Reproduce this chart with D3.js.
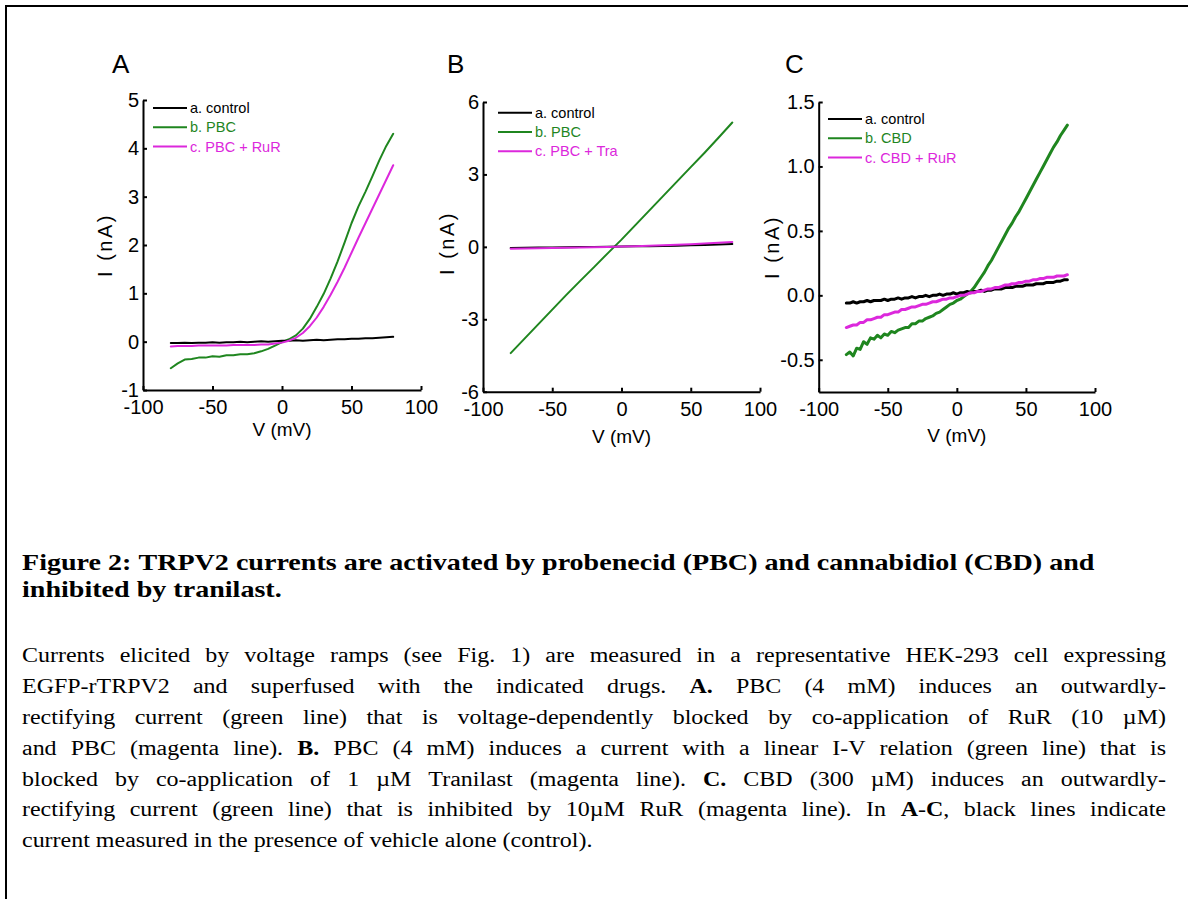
<!DOCTYPE html>
<html>
<head>
<meta charset="utf-8">
<script src="https://cdn.jsdelivr.net/npm/d3@7"></script>
<style>
  html, body { margin: 0; padding: 0; background: #fff; }
  svg { display: block; }
</style>
</head>
<body>
<script>
// ---------- data: I-V ramps (V in mV, I in nA) ----------
const voltA = [-80,-75,-70,-65,-60,-55,-50,-45,-40,-35,-30,-25,-20,-15,-10,-5,0,5,10,15,20,25,30,35,40,45,50,55,60,65,70,75,80];
const controlA = [-0.03,-0.03,-0.02,-0.03,-0.02,-0.02,-0.01,-0.02,-0.01,-0.01,0.00,-0.01,0.00,0.01,0.00,0.01,0.02,0.02,0.03,0.02,0.03,0.04,0.03,0.04,0.05,0.05,0.06,0.06,0.07,0.07,0.08,0.09,0.10];
const pbcA = [-0.55,-0.45,-0.37,-0.36,-0.33,-0.33,-0.30,-0.31,-0.28,-0.28,-0.26,-0.26,-0.24,-0.20,-0.15,-0.08,-0.01,0.05,0.13,0.27,0.47,0.72,0.99,1.31,1.66,2.05,2.45,2.80,3.10,3.42,3.75,4.05,4.30];
const pbcRuRA = [-0.10,-0.09,-0.09,-0.09,-0.08,-0.08,-0.08,-0.08,-0.08,-0.07,-0.07,-0.07,-0.07,-0.06,-0.06,-0.04,-0.02,0.02,0.08,0.18,0.32,0.50,0.72,0.97,1.24,1.53,1.84,2.15,2.45,2.75,3.05,3.35,3.65];

const voltB = [-80,-70,-60,-50,-40,-30,-20,-10,0,10,20,30,40,50,60,70,80];
const controlB = [-0.05,-0.04,-0.03,-0.03,-0.02,-0.01,-0.01,0.00,0.01,0.02,0.03,0.04,0.05,0.07,0.08,0.10,0.12];
const pbcB = [-4.40,-3.80,-3.20,-2.60,-2.00,-1.42,-0.85,-0.27,0.30,0.90,1.50,2.10,2.70,3.30,3.90,4.52,5.15];
const pbcTraB = [-0.08,-0.07,-0.06,-0.05,-0.04,-0.03,-0.02,-0.01,0.01,0.03,0.05,0.07,0.09,0.11,0.14,0.17,0.20];

const voltC = [-80,-77.5,-75,-72.5,-70,-67.5,-65,-62.5,-60,-57.5,-55,-52.5,-50,-47.5,-45,-42.5,-40,-37.5,-35,-32.5,-30,-27.5,-25,-22.5,-20,-17.5,-15,-12.5,-10,-7.5,-5,-2.5,0,2.5,5,7.5,10,12.5,15,17.5,20,22.5,25,27.5,30,32.5,35,37.5,40,42.5,45,47.5,50,52.5,55,57.5,60,62.5,65,67.5,70,72.5,75,77.5,80];
const controlC = [-0.06,-0.06,-0.05,-0.06,-0.05,-0.05,-0.04,-0.05,-0.04,-0.04,-0.04,-0.03,-0.04,-0.03,-0.03,-0.02,-0.03,-0.02,-0.02,-0.01,-0.02,-0.01,-0.01,0.00,-0.01,0.00,0.00,0.01,0.00,0.01,0.01,0.02,0.01,0.02,0.02,0.03,0.02,0.03,0.03,0.04,0.03,0.04,0.04,0.05,0.05,0.05,0.06,0.06,0.06,0.07,0.07,0.07,0.08,0.08,0.08,0.09,0.09,0.09,0.10,0.10,0.10,0.11,0.11,0.12,0.12];
const cbdC = [-0.46,-0.44,-0.47,-0.41,-0.42,-0.36,-0.38,-0.33,-0.34,-0.31,-0.33,-0.30,-0.31,-0.28,-0.29,-0.27,-0.26,-0.25,-0.25,-0.22,-0.22,-0.20,-0.20,-0.18,-0.17,-0.16,-0.14,-0.13,-0.11,-0.09,-0.07,-0.06,-0.04,-0.03,-0.01,0.01,0.03,0.06,0.10,0.14,0.18,0.23,0.27,0.32,0.37,0.42,0.47,0.52,0.56,0.61,0.65,0.70,0.75,0.80,0.85,0.90,0.95,1.00,1.05,1.10,1.15,1.19,1.24,1.28,1.32];
const cbdRuRC = [-0.25,-0.24,-0.23,-0.23,-0.21,-0.21,-0.19,-0.19,-0.18,-0.17,-0.17,-0.15,-0.15,-0.14,-0.13,-0.13,-0.11,-0.11,-0.10,-0.09,-0.09,-0.08,-0.07,-0.07,-0.06,-0.05,-0.05,-0.04,-0.03,-0.03,-0.02,-0.02,-0.01,0.00,0.00,0.01,0.02,0.02,0.03,0.03,0.04,0.05,0.05,0.06,0.06,0.07,0.08,0.08,0.09,0.09,0.10,0.10,0.11,0.11,0.12,0.12,0.13,0.13,0.14,0.14,0.14,0.15,0.15,0.15,0.16];

// ---------- axes ticks and labels ----------
const xTicks = [-100, -50, 0, 50, 100];
const yTicksA = [-1, 0, 1, 2, 3, 4, 5];
const yTicksB = [-6, -3, 0, 3, 6];
const yTicksC = [-0.5, 0.0, 0.5, 1.0, 1.5];
const yDomainA = [-1, 5];
const yDomainB = [-6, 6];
const yDomainC = [-0.75, 1.5];
const xDomain = [-100, 100];

const legendA = ["a. control", "b. PBC", "c. PBC + RuR"];
const legendB = ["a. control", "b. PBC", "c. PBC + Tra"];
const legendC = ["a. control", "b. CBD", "c. CBD + RuR"];
const panelLetters = ["A", "B", "C"];
const xTitle = "V (mV)";
const yTitle = "I (nA)";

const captionTitle = [
  "Figure 2: TRPV2 currents are activated by probenecid (PBC) and cannabidiol (CBD) and",
  "inhibited by tranilast."
];
const captionBody = [
  "Currents elicited by voltage ramps (see Fig. 1) are measured in a representative HEK-293 cell expressing",
  "EGFP-rTRPV2 and superfused with the indicated drugs. *A.* PBC (4 mM) induces an outwardly-",
  "rectifying current (green line) that is voltage-dependently blocked by co-application of RuR (10 µM)",
  "and PBC (magenta line). *B.* PBC (4 mM) induces a current with a linear I-V relation (green line) that is",
  "blocked by co-application of 1 µM Tranilast (magenta line). *C.* CBD (300 µM) induces an outwardly-",
  "rectifying current (green line) that is inhibited by 10µM RuR (magenta line). In *A*-*C*, black lines indicate",
  "current measured in the presence of vehicle alone (control)."
];

// ---------- styling ----------
const GREEN = "#1f861f";
const MAGENTA = "#dc28dc";
const BLACK = "#000";
const SANS = "'Liberation Sans', Arial, sans-serif";
const SERIF = "'Liberation Serif', 'Times New Roman', serif";

// plain hyphen-minus for negative tick values
const hy = f => d => f(d).replace("\u2212", "-");

const W = 1188, H = 899;
const svg = d3.select("body").append("svg")
  .attr("width", W).attr("height", H)
  .attr("viewBox", `0 0 ${W} ${H}`);

svg.append("rect").attr("width", W).attr("height", H).attr("fill", "#fff");

// frame around the figure
svg.append("path")
  .attr("d", `M6,${H} V6 H${W}`)
  .attr("fill", "none").attr("stroke", "#000").attr("stroke-width", 2);

const panels = [
  { letter: panelLetters[0], box: {l: 143, r: 421, t: 100, b: 390}, yDomain: yDomainA, yTicks: yTicksA, fmt: hy(d3.format("d")),
    volt: voltA, traces: [pbcA, controlA, pbcRuRA], legend: legendA, lw: 2,
    letterPos: [112, 73], yTitlePos: [105, 245], xTitleY: 436, legendOff: [10, 8] },
  { letter: panelLetters[1], box: {l: 483, r: 760, t: 102, b: 391.7}, yDomain: yDomainB, yTicks: yTicksB, fmt: hy(d3.format("d")),
    volt: voltB, traces: [pbcB, controlB, pbcTraB], legend: legendB, lw: 2,
    letterPos: [447, 73], yTitlePos: [447, 243], xTitleY: 443, legendOff: [15, 10.7] },
  { letter: panelLetters[2], box: {l: 818.7, r: 1095, t: 102, b: 392}, yDomain: yDomainC, yTicks: yTicksC, fmt: hy(d3.format(".1f")),
    volt: voltC, traces: [cbdC, controlC, cbdRuRC], legend: legendC, lw: 3,
    letterPos: [785, 73], yTitlePos: [772, 247], xTitleY: 442, legendOff: [9.3, 17] }
];
// trace order in each panel: [green, black, magenta]
const traceColors = [GREEN, BLACK, MAGENTA];
const legendColors = [BLACK, GREEN, MAGENTA];

panels.forEach(p => {
  const {l, r, t, b} = p.box;
  const x = d3.scaleLinear().domain(xDomain).range([l, r]);
  const y = d3.scaleLinear().domain(p.yDomain).range([b, t]);
  const g = svg.append("g");

  // traces
  const line = d3.line().x(d => x(d[0])).y(d => y(d[1]));
  p.traces.forEach((vals, i) => {
    g.append("path")
      .datum(d3.zip(p.volt, vals))
      .attr("d", line)
      .attr("fill", "none")
      .attr("stroke", traceColors[i])
      .attr("stroke-width", p.lw)
      .attr("stroke-linejoin", "round")
      .attr("stroke-linecap", "round");
  });

  // axes
  const xAxis = d3.axisBottom(x).tickValues(xTicks).tickSizeInner(-4).tickSizeOuter(0).tickPadding(10).tickFormat(hy(d3.format("d")));
  const yAxis = d3.axisLeft(y).tickValues(p.yTicks).tickSizeInner(-4).tickSizeOuter(0).tickPadding(4).tickFormat(p.fmt);

  const gx = g.append("g").attr("transform", `translate(0,${b})`).call(xAxis);
  const gy = g.append("g").attr("transform", `translate(${l},0)`).call(yAxis);
  [gx, gy].forEach(ax => {
    ax.select(".domain").attr("stroke", "#000").attr("stroke-width", 2);
    ax.selectAll(".tick line").attr("stroke", "#000").attr("stroke-width", 2);
    ax.selectAll(".tick text")
      .attr("fill", "#000")
      .style("font-family", SANS)
      .style("font-size", "20px");
  });

  // axis titles
  g.append("text")
    .attr("x", (l + r) / 2).attr("y", p.xTitleY)
    .attr("text-anchor", "middle")
    .style("font-family", SANS).style("font-size", "19px")
    .text(xTitle);
  g.append("text")
    .attr("transform", `translate(${p.yTitlePos[0]},${p.yTitlePos[1]}) rotate(-90)`)
    .attr("text-anchor", "middle").attr("dy", "0.35em")
    .style("font-family", SANS).style("font-size", "20px").style("letter-spacing", "2.5px")
    .text(yTitle);

  // panel letter
  g.append("text")
    .attr("x", p.letterPos[0]).attr("y", p.letterPos[1])
    .style("font-family", SANS).style("font-size", "26px")
    .text(p.letter);

  // legend
  const lx = l + p.legendOff[0], ly = t + p.legendOff[1];
  const lg = g.append("g").attr("transform", `translate(${lx},${ly})`);
  p.legend.forEach((lab, i) => {
    const row = lg.append("g").attr("transform", `translate(0,${i * 19.3})`);
    row.append("line").attr("x1", 0).attr("x2", 34).attr("y1", 0).attr("y2", 0)
      .attr("stroke", legendColors[i]).attr("stroke-width", 2);
    row.append("text").attr("x", 37).attr("y", 0).attr("dy", "0.35em")
      .attr("fill", legendColors[i])
      .style("font-family", SANS).style("font-size", "14.5px")
      .text(lab);
  });
});

// ---------- caption ----------
const SX = 1.17;          // horizontal stretch of the caption type
const LEFT = 22, RIGHT = 1166;

function captionLine(str, yBase, size, justify, allBold) {
  const g = svg.append("g").attr("transform", `translate(${LEFT},0) scale(${SX},1)`);
  const words = str.split(" ");
  const nodes = words.map(w => {
    const t = g.append("text").attr("y", yBase)
      .style("font-family", SERIF).style("font-size", size + "px").attr("fill", "#000");
    w.split("*").forEach((part, k) => {
      if (!part) return;
      t.append("tspan").text(part)
        .style("font-weight", (allBold || k % 2 === 1) ? "bold" : "normal");
    });
    return t;
  });
  const widths = nodes.map(n => n.node().getComputedTextLength());
  const avail = (RIGHT - LEFT) / SX;
  const total = d3.sum(widths);
  const gap = justify && words.length > 1 ? (avail - total) / (words.length - 1) : 0.25 * size;
  let cx = 0;
  nodes.forEach((n, i) => { n.attr("x", cx); cx += widths[i] + gap; });
}

captionTitle.forEach((s, i) => captionLine(s, 570 + i * 27, 24, false, true));
captionBody.forEach((s, i) => captionLine(s, 662 + i * 30.9, 20.5, i < captionBody.length - 1, false));
</script>
</body>
</html>
